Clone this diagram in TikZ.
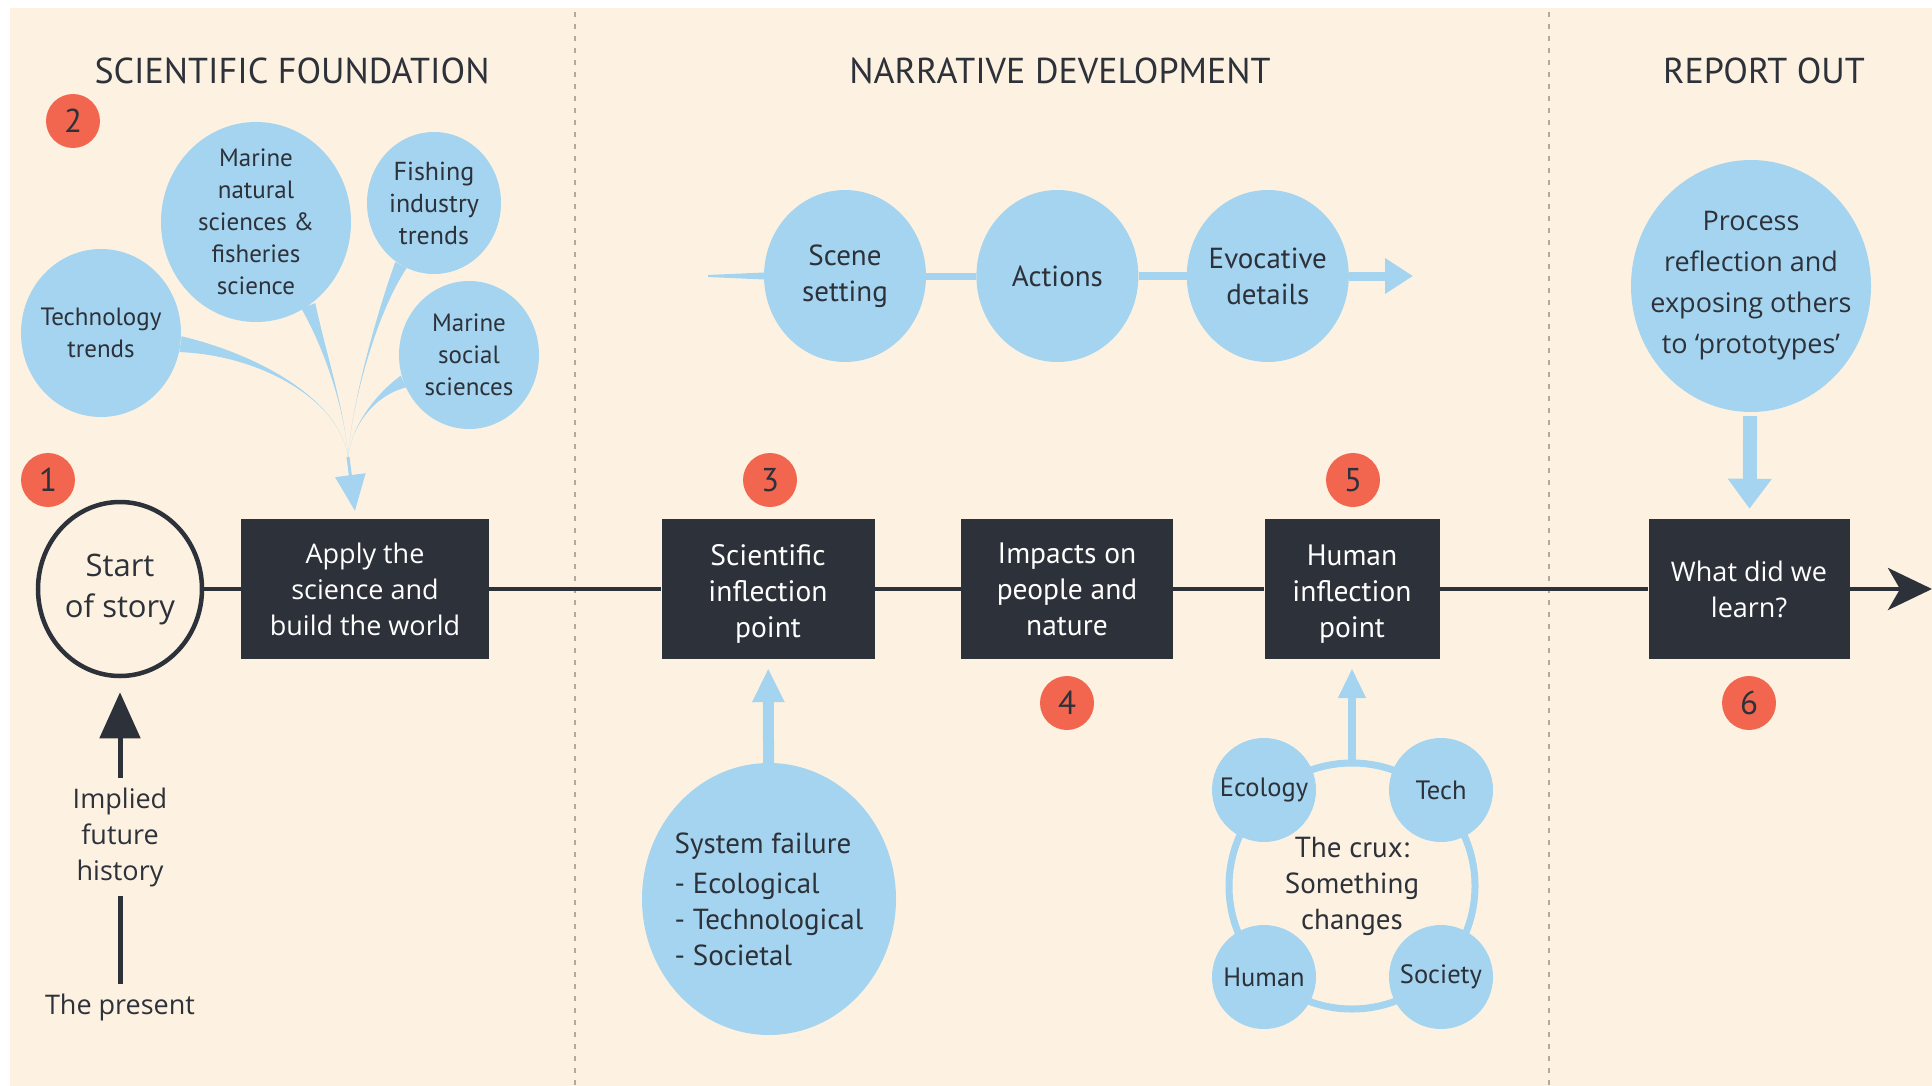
\documentclass[tikz,border=0pt]{standalone}
\usepackage{fontspec}
\setmainfont{Open Sans}
\newfontfamily\narrowfont{PT Sans}
\usetikzlibrary{calc,positioning,arrows.meta,shapes.geometric}

\definecolor{cream}{HTML}{FDF2E1}
\definecolor{bubble}{HTML}{A4D4EF}
\definecolor{ink}{HTML}{2D3139}
\definecolor{badgered}{HTML}{F2654F}
\definecolor{divider}{HTML}{B3AA9E}

% tapered blue stem from a bubble into a common point
\newcommand{\taperlink}[5]{\fill[bubble] ($(#1)!#5!90:(#2)$) .. controls (#2) and (#3) .. (#4) .. controls (#3) and (#2) .. ($(#1)!#5!-90:(#2)$) -- cycle;}

\begin{document}
\begin{tikzpicture}[x=1pt,y=-1pt,
    bub/.style={ellipse,fill=bubble,text=ink,align=center,inner sep=-20pt,font=\narrowfont\fontsize{25}{32}\selectfont},
    smallbub/.style={bub,circle,minimum size=104pt,font=\narrowfont\fontsize{26.5}{30}\selectfont},
    darkbox/.style={rectangle,fill=ink,text=white,align=center,minimum height=140pt,inner sep=0pt,font=\narrowfont\fontsize{29.5}{36}\selectfont},
    badge/.style={circle,fill=badgered,text=ink,minimum size=54pt,inner sep=0pt,font=\narrowfont\fontsize{33}{33}\selectfont},
    title/.style={text=ink,font=\narrowfont\fontsize{36}{40}\selectfont},
    plain/.style={text=ink,align=center,font=\fontsize{27}{36}\selectfont},
    timeline/.style={ink,line width=4pt},
    bluearrow/.style={bubble,line width=11pt,-{Triangle[length=34pt,width=30pt]}},
  ]
  \useasboundingbox (0,0) rectangle (1932,1086);
  \fill[white] (0,0) rectangle (1932,1086);
  \fill[cream] (10,8) rectangle (1932,1086);
  %section dividers
  \draw[divider,line width=2pt,dash pattern=on 5pt off 7pt] (575,12) -- (575,1086);
  \draw[divider,line width=2pt,dash pattern=on 5pt off 7pt] (1549,12) -- (1549,1086);

  \node[title] (tfound) at (292,71) {SCIENTIFIC FOUNDATION};
  \node[title] (tnarr) at (1060,71) {NARRATIVE DEVELOPMENT};
  \node[title] (treport) at (1764,71) {REPORT OUT};

  %the time line
  \node[ellipse,draw=ink,line width=4.5pt,minimum width=164pt,minimum height=174pt,inner sep=0pt,plain,font=\fontsize{31}{41}\selectfont] (start) at (120,589) {Start\\of story};
  \node[darkbox,minimum width=248pt,font=\fontsize{27}{36}\selectfont] (apply) at (365,589) {Apply the\\science and\\build the world};
  \node[darkbox,minimum width=213pt] (scipoint) at (768,589) {\rule{0pt}{31pt}Scientific\\inflection\\point};
  \node[darkbox,minimum width=212pt] (impacts) at (1067,589) {Impacts on\\people and\\nature};
  \node[darkbox,minimum width=175pt] (humpoint) at (1352,589) {\rule{0pt}{31pt}Human\\inflection\\point};
  \node[darkbox,minimum width=201pt,font=\fontsize{27}{36}\selectfont] (learn) at (1749,589) {What did we\\learn?};
  \coordinate (tlend) at (1932,589);
  \foreach \a/\b in {start/apply,apply/scipoint,scipoint/impacts,impacts/humpoint,humpoint/learn}
    \draw[timeline] (\a) -- (\b);
  \draw[timeline,-{Stealth[length=44pt,width=42pt,inset=12pt]}] (learn) -- (tlend);

  \node[badge] (b1) at (48,480) {1};
  \node[badge] (b2) at (73,121) {2};
  \node[badge] (b3) at (770,480) {3};
  \node[badge] (b4) at (1067,703) {4};
  \node[badge] (b5) at (1353,480) {5};
  \node[badge] (b6) at (1749,703) {6};

  %implied history below the start
  \node[plain] (implied) at (120,837) {Implied\\future\\history};
  \node[plain] (present) at (120,1007) {The present};
  \draw[ink,line width=5pt,shorten <=6pt,shorten >=6pt] (present) -- (implied);
  \draw[ink,line width=5pt,shorten <=6pt,shorten >=14pt,-{Triangle[length=46pt,width=40pt]}] (implied) -- (start);

  %scientific foundation bubbles
  \node[bub,minimum width=160pt,minimum height=168pt] (tech) at (101,333) {Technology\\trends};
  \node[bub,minimum width=190pt,minimum height=200pt] (marnat) at (256,222) {Marine\\natural\\sciences \&\\fisheries\\science};
  \node[bub,minimum width=134pt,minimum height=142pt,font=\narrowfont\fontsize{26}{32}\selectfont] (fishing) at (434,203) {Fishing\\industry\\trends};
  \node[bub,minimum width=140pt,minimum height=148pt] (marsoc) at (469,355) {Marine\\social\\sciences};
  \coordinate (join) at (348,457);
  \taperlink{tech.-8}{260,355}{340,400}{join}{8pt}
  \taperlink{marnat.-58}{325,350}{345,410}{join}{7.5pt}
  \taperlink{fishing.-118}{378,310}{352,400}{join}{6.5pt}
  \taperlink{marsoc.-158}{375,395}{352,425}{join}{6.5pt}
  \draw[bubble,line width=3pt,shorten >=8pt,-{Triangle[length=36pt,width=30pt]}] (join) -- (apply);

  %narrative bubbles
  \node[bub,minimum width=162pt,minimum height=172pt,font=\narrowfont\fontsize{29}{36}\selectfont] (scene) at (845,276) {Scene\\setting};
  \node[bub,minimum width=162pt,minimum height=172pt,font=\narrowfont\fontsize{29}{36}\selectfont,right=50pt of scene] (actions) {Actions};
  \node[bub,minimum width=162pt,minimum height=172pt,font=\narrowfont\fontsize{29}{36}\selectfont,right=48pt of actions] (evoc) {Evocative\\details};
  \coordinate (nstart) at (708,276);
  \coordinate (nend) at (1413,276);
  \fill[bubble] ($(nstart)+(0,-1)$) -- ($(scene.west)+(0,-3.5)$) -- ($(scene.west)+(0,3.5)$) -- ($(nstart)+(0,1)$) -- cycle;
  \draw[bubble,line width=7pt] (scene) -- (actions);
  \draw[bubble,line width=8pt] (actions) -- (evoc);
  \draw[bubble,line width=9pt,-{Triangle[length=28pt,width=34pt]}] (evoc) -- (nend);

  %report out
  \node[bub,minimum width=240pt,minimum height=252pt,font=\fontsize{27}{41}\selectfont] (report) at (1751,286) {Process\\reflection and\\exposing others\\to ‘prototypes’};
  \draw[bubble,line width=14pt,shorten <=4pt,shorten >=10pt,-{Triangle[length=30pt,width=42pt]}] (report) -- (learn);

  %system failure
  \node[bub,minimum width=254pt,minimum height=272pt,align=left,font=\narrowfont\fontsize{29}{36}\selectfont] (sysfail) at (769,899) {System failure\\[4pt]- Ecological\\- Technological\\- Societal};
  \draw[bluearrow,shorten >=9pt] (sysfail) -- (scipoint);

  %the crux
  \node[circle,draw=bubble,line width=7pt,minimum size=246pt,inner sep=0pt,text=ink,align=center,font=\narrowfont\fontsize{29}{36}\selectfont] (crux) at (1352,886) {The crux:\\Something\\changes};
  \node[smallbub] (ecology) at (1264,790) {Ecology};
  \node[smallbub] (techc) at (1441,790) {Tech};
  \node[smallbub] (human) at (1264,977) {Human};
  \node[smallbub] (society) at (1441,977) {Society};
  \draw[bubble,line width=8pt,shorten >=9pt,-{Triangle[length=30pt,width=26pt]}] (crux) -- (humpoint);
\end{tikzpicture}
\end{document}
